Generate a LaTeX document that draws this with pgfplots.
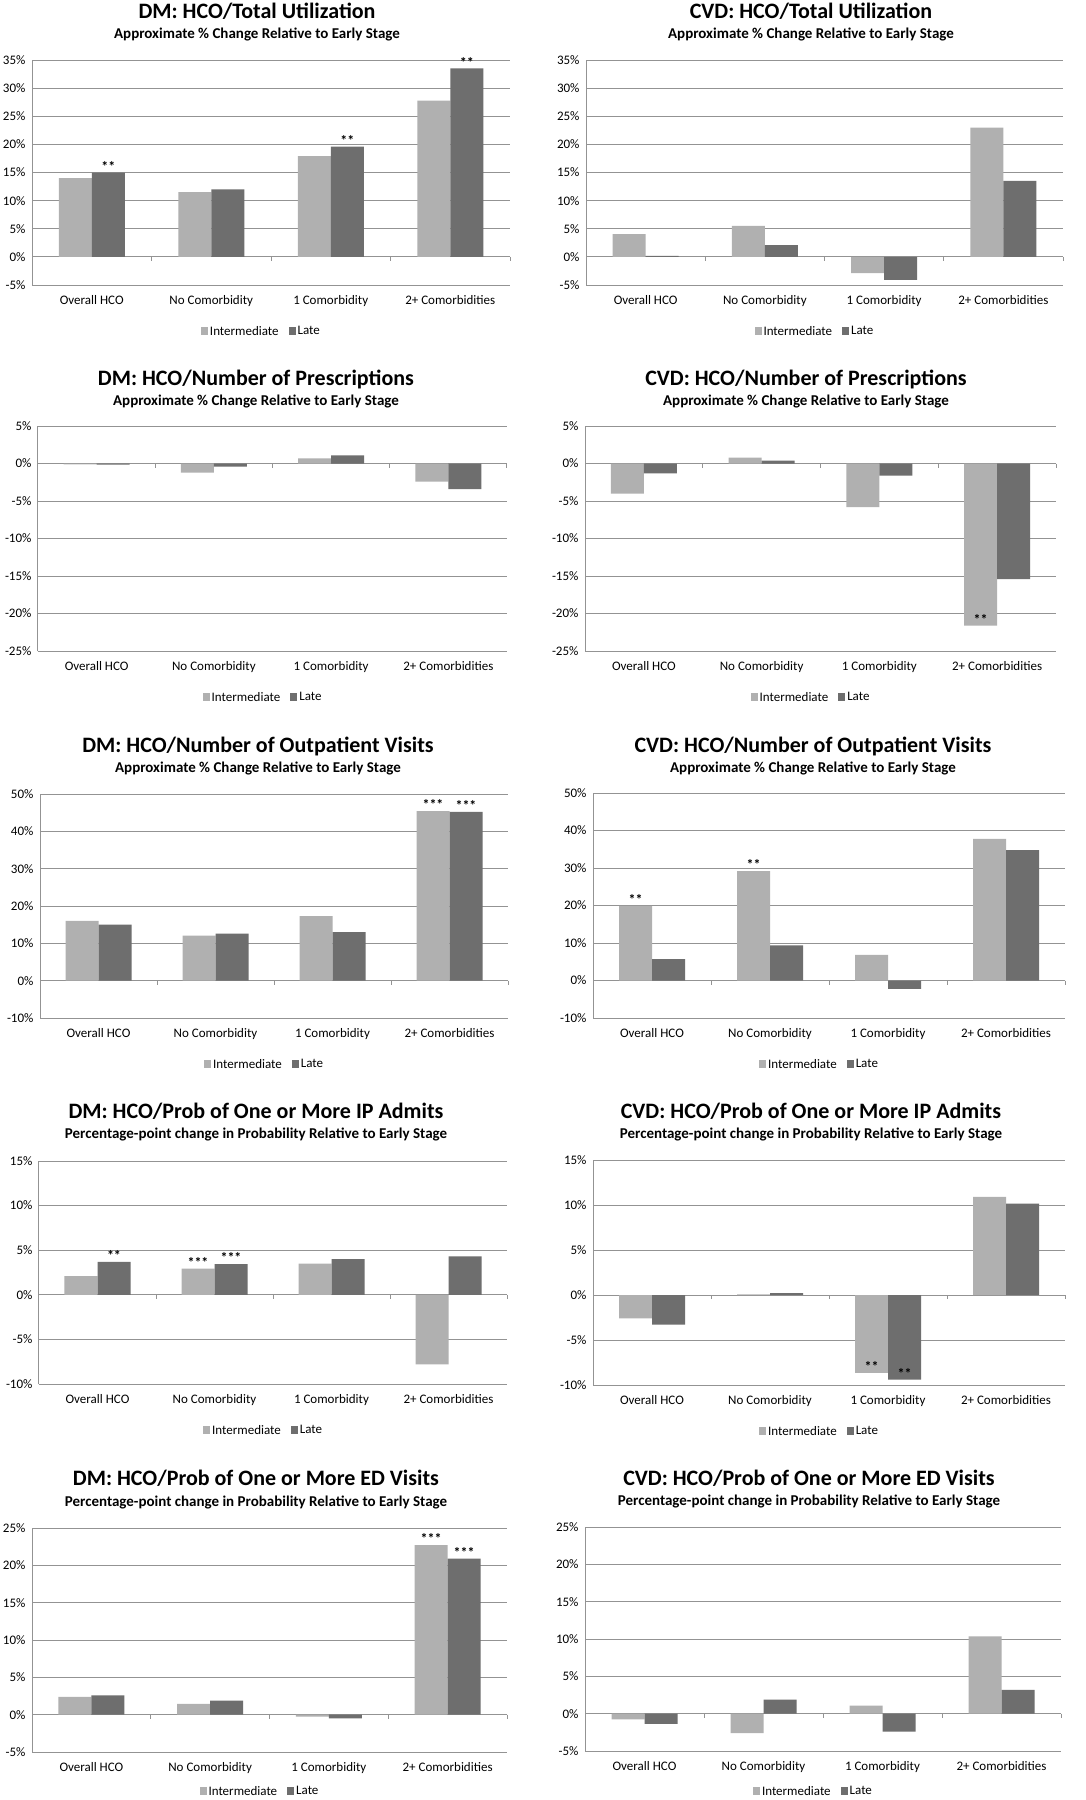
\documentclass[border=0pt]{standalone}
\usepackage{fontspec}
\setmainfont{Carlito}
\usepackage{pgfplots}
\pgfplotsset{compat=1.18}
\definecolor{intc}{HTML}{B0B0B0}
\definecolor{latec}{HTML}{6E6E6E}
\definecolor{gridc}{HTML}{939393}
\newcommand{\fs}[1]{\fontsize{#1}{#1}\selectfont}
\pgfplotsset{panel/.style={
  scale only axis, ybar=0pt, bar width=33pt,
  xmin=-0.5, xmax=3.5, xtick={0,1,2,3},
  xticklabels={Overall HCO, No Comorbidity, 1 Comorbidity, 2+ Comorbidities},
  axis y line*=left, axis x line*=bottom,
  axis line style={gridc, line width=1pt},
  ymajorgrids, grid style={gridc, line width=1pt},
  major tick length=0pt,
  tick label style={font=\fs{13}},
  yticklabel={\pgfmathtruncatemacro\tk{\tick}\tk\%},
  yticklabel style={xshift=-3pt},
  xticklabel style={yshift=-7pt},
  enlarge y limits=false,
  nodes near coords, point meta=explicit symbolic,
  nodes near coords style={font=\bfseries\fs{14}, inner sep=1pt, black},
  legend columns=2,
  legend style={draw=none, fill=none, at={(0.48,0)}, anchor=north, yshift=-37pt, font=\fs{13},
    /tikz/every even column/.append style={column sep=8pt}},
  legend image code/.code={\fill[##1] (0pt,-3.5pt) rectangle (7pt,4pt);},
  clip=false,
  after end axis/.code={
    \foreach \b in {0.5,1.5,2.5,3.5}{\draw[gridc, line width=1pt] (axis cs:\b,0) -- ++(0,-4pt);}
  },
}}
\newcommand\ttl[5]{%
  \node[anchor=base, font=\bfseries\fs{22}] at (#1pt,-#2pt) {#4};
  \node[anchor=base, font=\bfseries\fs{15}] at (#1pt,-#3pt) {#5};}
\begin{document}
\begin{tikzpicture}
\path[use as bounding box, fill=white] (0,0) rectangle (1086pt,-1800pt);

% ---------- Panel 1 ----------
\ttl{257}{18}{38}{DM: HCO/Total Utilization}{Approximate \% Change Relative to Early Stage}
\begin{axis}[panel, at={(32pt,-285pt)}, anchor=south west, width=478pt, height=225pt,
  ymin=-5, ymax=35, ytick={-5,0,...,35}]
\addplot[fill=intc, draw=none] coordinates {(0,14.0) [] (1,11.5) [] (2,17.9) [] (3,27.8) []};
\addplot[fill=latec, draw=none] coordinates {(0,15.0) [**] (1,12.0) [] (2,19.6) [**] (3,33.5) [**]};
\legend{Intermediate, Late}
\end{axis}

% ---------- Panel 2 ----------
\ttl{811}{18}{38}{CVD: HCO/Total Utilization}{Approximate \% Change Relative to Early Stage}
\begin{axis}[panel, at={(586pt,-285pt)}, anchor=south west, width=477pt, height=225pt,
  ymin=-5, ymax=35, ytick={-5,0,...,35}]
\addplot[fill=intc, draw=none] coordinates {(0,4.05) [] (1,5.5) [] (2,-2.9) [] (3,23.0) []};
\addplot[fill=latec, draw=none] coordinates {(0,0.2) [] (1,2.1) [] (2,-4.1) [] (3,13.5) []};
\legend{Intermediate, Late}
\end{axis}

% ---------- Panel 3 ----------
\ttl{256}{385}{405}{DM: HCO/Number of Prescriptions}{Approximate \% Change Relative to Early Stage}
\begin{axis}[panel, at={(38pt,-651pt)}, anchor=south west, width=469pt, height=225pt,
  ymin=-25, ymax=5, ytick={-25,-20,...,5}]
\addplot[fill=intc, draw=none] coordinates {(0,-0.1) [] (1,-1.2) [] (2,0.7) [] (3,-2.4) []};
\addplot[fill=latec, draw=none] coordinates {(0,-0.15) [] (1,-0.4) [] (2,1.1) [] (3,-3.4) []};
\legend{Intermediate, Late}
\end{axis}

% ---------- Panel 4 ----------
\ttl{806}{385}{405}{CVD: HCO/Number of Prescriptions}{Approximate \% Change Relative to Early Stage}
\begin{axis}[panel, at={(585pt,-651pt)}, anchor=south west, width=471pt, height=225pt,
  ymin=-25, ymax=5, ytick={-25,-20,...,5}]
\addplot[fill=intc, draw=none] coordinates {(0,-4.0) [] (1,0.8) [] (2,-5.8) [] (3,-21.6) [**]};
\addplot[fill=latec, draw=none] coordinates {(0,-1.3) [] (1,0.4) [] (2,-1.6) [] (3,-15.4) []};
\legend{Intermediate, Late}
\end{axis}

% ---------- Panel 5 ----------
\ttl{258}{752}{772}{DM: HCO/Number of Outpatient Visits}{Approximate \% Change Relative to Early Stage}
\begin{axis}[panel, at={(40pt,-1018pt)}, anchor=south west, width=468pt, height=224pt,
  ymin=-10, ymax=50, ytick={-10,0,...,50}]
\addplot[fill=intc, draw=none] coordinates {(0,16.0) [] (1,12.1) [] (2,17.3) [] (3,45.4) [***]};
\addplot[fill=latec, draw=none] coordinates {(0,15.0) [] (1,12.6) [] (2,13.0) [] (3,45.2) [***]};
\legend{Intermediate, Late}
\end{axis}

% ---------- Panel 6 ----------
\ttl{813}{752}{772}{CVD: HCO/Number of Outpatient Visits}{Approximate \% Change Relative to Early Stage}
\begin{axis}[panel, at={(593pt,-1018pt)}, anchor=south west, width=472pt, height=225pt,
  ymin=-10, ymax=50, ytick={-10,0,...,50}]
\addplot[fill=intc, draw=none] coordinates {(0,19.9) [**] (1,29.2) [**] (2,6.85) [] (3,37.8) []};
\addplot[fill=latec, draw=none] coordinates {(0,5.7) [] (1,9.4) [] (2,-2.2) [] (3,34.8) []};
\legend{Intermediate, Late}
\end{axis}

% ---------- Panel 7 ----------
\ttl{256}{1118}{1138}{DM: HCO/Prob of One or More IP Admits}{Percentage-point change in Probability Relative to Early Stage}
\begin{axis}[panel, at={(39pt,-1384pt)}, anchor=south west, width=468pt, height=223pt,
  ymin=-10, ymax=15, ytick={-10,-5,...,15}]
\addplot[fill=intc, draw=none] coordinates {(0,2.1) [] (1,2.95) [***] (2,3.5) [] (3,-7.8) []};
\addplot[fill=latec, draw=none] coordinates {(0,3.7) [**] (1,3.45) [***] (2,4.0) [] (3,4.3) []};
\legend{Intermediate, Late}
\end{axis}

% ---------- Panel 8 ----------
\ttl{811}{1118}{1138}{CVD: HCO/Prob of One or More IP Admits}{Percentage-point change in Probability Relative to Early Stage}
\begin{axis}[panel, at={(593pt,-1385pt)}, anchor=south west, width=472pt, height=225pt,
  ymin=-10, ymax=15, ytick={-10,-5,...,15}]
\addplot[fill=intc, draw=none] coordinates {(0,-2.6) [] (1,0.07) [] (2,-8.65) [**] (3,10.9) []};
\addplot[fill=latec, draw=none] coordinates {(0,-3.3) [] (1,0.2) [] (2,-9.4) [**] (3,10.15) []};
\legend{Intermediate, Late}
\end{axis}

% ---------- Panel 9 ----------
\ttl{256}{1485}{1506}{DM: HCO/Prob of One or More ED Visits}{Percentage-point change in Probability Relative to Early Stage}
\begin{axis}[panel, at={(32pt,-1752pt)}, anchor=south west, width=475pt, height=224pt,
  ymin=-5, ymax=25, ytick={-5,0,...,25}, legend style={yshift=7pt}]
\addplot[fill=intc, draw=none] coordinates {(0,2.4) [] (1,1.45) [] (2,-0.25) [] (3,22.7) [***]};
\addplot[fill=latec, draw=none] coordinates {(0,2.6) [] (1,1.9) [] (2,-0.5) [] (3,20.9) [***]};
\legend{Intermediate, Late}
\end{axis}

% ---------- Panel 10 ----------
\ttl{809}{1485}{1505}{CVD: HCO/Prob of One or More ED Visits}{Percentage-point change in Probability Relative to Early Stage}
\begin{axis}[panel, at={(585pt,-1751pt)}, anchor=south west, width=476pt, height=224pt,
  ymin=-5, ymax=25, ytick={-5,0,...,25}, legend style={yshift=6pt}]
\addplot[fill=intc, draw=none] coordinates {(0,-0.75) [] (1,-2.6) [] (2,1.07) [] (3,10.35) []};
\addplot[fill=latec, draw=none] coordinates {(0,-1.35) [] (1,1.9) [] (2,-2.4) [] (3,3.2) []};
\legend{Intermediate, Late}
\end{axis}
\end{tikzpicture}
\end{document}
